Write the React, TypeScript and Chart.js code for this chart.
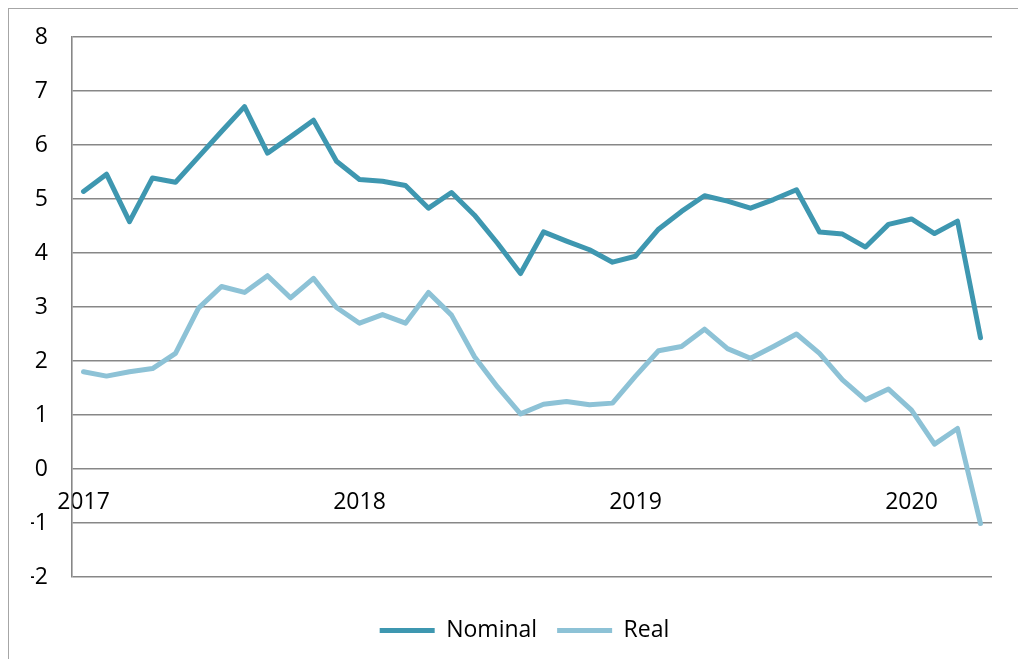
import React, { useEffect, useRef } from "react";
import { Chart, registerables } from "chart.js";

Chart.register(...registerables);

const years = ["2017", "2018", "2019", "2020"];
const monthsPerYear = 12;
const pointCount = 40;

const nominal = [
  5.14, 5.46, 4.58, 5.39, 5.31, 5.78, 6.25, 6.71, 5.85, 6.15, 6.46, 5.7,
  5.36, 5.33, 5.25, 4.83, 5.12, 4.7, 4.18, 3.62, 4.39, 4.22, 4.06, 3.83,
  3.94, 4.44, 4.77, 5.06, 4.96, 4.83, 4.99, 5.17, 4.39, 4.35, 4.11, 4.53,
  4.63, 4.36, 4.59, 2.43,
];

const real = [
  1.8, 1.72, 1.8, 1.86, 2.14, 2.98, 3.38, 3.27, 3.58, 3.17, 3.53, 2.99,
  2.7, 2.86, 2.7, 3.27, 2.85, 2.08, 1.52, 1.02, 1.2, 1.25, 1.19, 1.22,
  1.72, 2.19, 2.27, 2.59, 2.23, 2.05, 2.27, 2.5, 2.14, 1.65, 1.28, 1.48,
  1.09, 0.46, 0.75, -1.01,
];

const yTicks = [-2, -1, 0, 1, 2, 3, 4, 5, 6, 7, 8];

const labels: string[] = [];
for (let i = 0; i < pointCount; i++) {
  labels.push(i % monthsPerYear === 0 ? years[i / monthsPerYear] : "");
}

const NOMINAL_COLOR = "#3E97B0";
const REAL_COLOR = "#8DC2D6";
const GRID = "#878787";
const FONT = "'Open Sans', 'Noto Sans', sans-serif";

export default function App() {
  const ref = useRef<HTMLCanvasElement | null>(null);

  useEffect(() => {
    if (!ref.current) return;
    const chart = new Chart(ref.current, {
      type: "line",
      data: {
        labels,
        datasets: [
          {
            label: "Nominal",
            data: nominal,
            borderColor: NOMINAL_COLOR,
            backgroundColor: NOMINAL_COLOR,
            borderWidth: 5,
            pointRadius: 0,
            borderCapStyle: "round",
            borderJoinStyle: "round",
            tension: 0,
          },
          {
            label: "Real",
            data: real,
            borderColor: REAL_COLOR,
            backgroundColor: REAL_COLOR,
            borderWidth: 5,
            pointRadius: 0,
            borderCapStyle: "round",
            borderJoinStyle: "round",
            tension: 0,
          },
        ],
      },
      options: {
        animation: false,
        responsive: false,
        maintainAspectRatio: false,
        layout: { padding: { left: 22, right: 0, top: 28, bottom: 6 } },
        plugins: {
          tooltip: { enabled: false },
          legend: {
            position: "bottom",
            labels: {
              usePointStyle: true,
              pointStyle: "line",
              pointStyleWidth: 55,
              color: "#000",
              font: { family: FONT, size: 23 },
              padding: 20,
            },
          },
        },
        scales: {
          x: {
            type: "category",
            position: { y: 0 } as any,
            offset: true,
            grid: { display: false, drawTicks: false },
            border: { display: false },
            ticks: {
              autoSkip: false,
              maxRotation: 0,
              minRotation: 0,
              padding: 20,
              color: "#000",
              font: { family: FONT, size: 23 },
            },
          },
          xGap: {
            type: "category",
            position: "bottom",
            offset: true,
            grid: { display: false, drawTicks: false },
            border: { display: false },
            ticks: { display: false },
            afterFit: (scale: any) => {
              scale.height = 22;
            },
          },
          y: {
            type: "linear",
            min: -2,
            max: 8,
            afterFit: (scale: any) => {
              scale.width = 41;
              scale.paddingTop = 0;
              scale.paddingBottom = 0;
            },
            afterBuildTicks: (scale: any) => {
              scale.ticks = yTicks.map((v) => ({ value: v }));
            },
            grid: {
              color: GRID,
              lineWidth: 1.6,
              drawTicks: false,
              tickLength: 0,
            },
            border: { display: true, color: GRID, width: 1.6 },
            ticks: {
              padding: 24,
              color: "#000",
              font: { family: FONT, size: 23 },
            },
          },
          yGap: {
            type: "linear",
            position: "right",
            grid: { display: false, drawTicks: false },
            border: { display: false },
            ticks: { display: false },
            afterFit: (scale: any) => {
              scale.width = 26;
              scale.paddingTop = 0;
              scale.paddingBottom = 0;
            },
          },
        },
      },
    });
    return () => chart.destroy();
  }, []);

  return (
    <div
      style={{
        borderLeft: "1.5px solid #A6A6A6",
        borderTop: "1.5px solid #A6A6A6",
        width: 1010,
        height: 650,
        overflow: "hidden",
      }}
    >
      <canvas ref={ref} width={1009} height={649} style={{ display: "block" }} />
    </div>
  );
}
